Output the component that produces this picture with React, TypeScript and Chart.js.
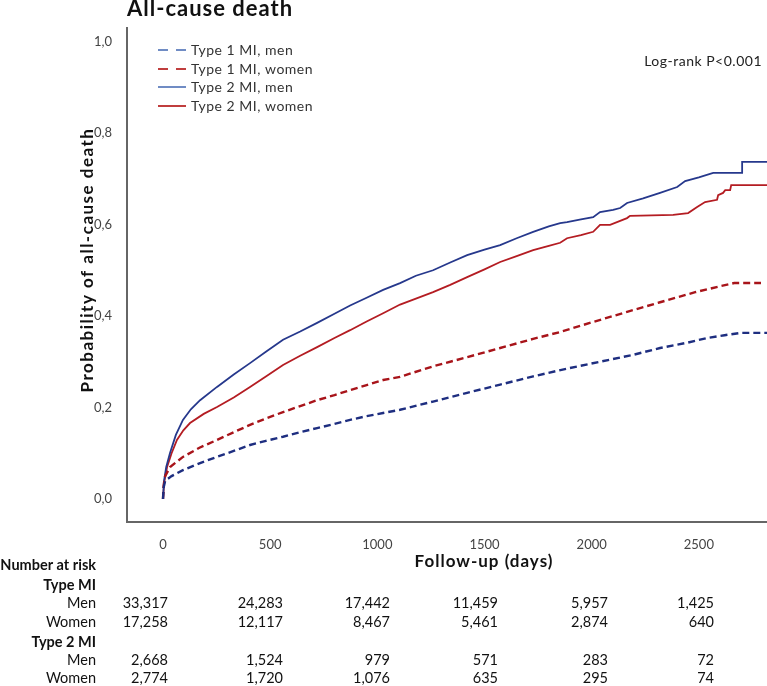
import React, { useEffect, useRef } from 'react';
import { Chart, registerables } from 'chart.js';

Chart.register(...registerables);

// ---- Data ----
const xTicks = [0, 500, 1000, 1500, 2000, 2500];
const yTicks = [0, 0.2, 0.4, 0.6, 0.8, 1.0];

const seriesNames = ['Type 1 MI, men', 'Type 1 MI, women', 'Type 2 MI, men', 'Type 2 MI, women'];

const t1MenDays = [0, 3, 10, 40, 93, 170, 252, 330, 406, 480, 560, 640, 719, 800, 873, 950, 1027, 1106, 1260, 1419, 1573, 1727, 1885, 2039, 2193, 2319, 2450, 2539, 2620, 2693, 2818];
const t1MenProb = [0, 0.025, 0.04, 0.05, 0.063, 0.078, 0.092, 0.105, 0.118, 0.127, 0.136, 0.146, 0.155, 0.164, 0.173, 0.181, 0.188, 0.195, 0.213, 0.232, 0.25, 0.268, 0.285, 0.3, 0.315, 0.33, 0.342, 0.352, 0.358, 0.363, 0.363];

const t1WomenDays = [0, 3, 10, 33, 93, 170, 252, 330, 406, 480, 560, 640, 719, 800, 873, 950, 1027, 1106, 1260, 1419, 1573, 1727, 1853, 2007, 2165, 2319, 2483, 2590, 2665, 2790];
const t1WomenProb = [0, 0.03, 0.05, 0.07, 0.092, 0.112, 0.129, 0.146, 0.162, 0.176, 0.19, 0.203, 0.216, 0.227, 0.238, 0.249, 0.26, 0.267, 0.29, 0.31, 0.33, 0.35, 0.365, 0.387, 0.409, 0.43, 0.452, 0.464, 0.472, 0.472];

const t2MenDays = [0, 5, 15, 33, 60, 93, 130, 173, 252, 330, 406, 480, 560, 640, 719, 800, 873, 950, 1027, 1106, 1180, 1260, 1340, 1419, 1500, 1573, 1650, 1727, 1800, 1853, 1885, 1950, 2007, 2039, 2100, 2133, 2165, 2240, 2319, 2399, 2436, 2500, 2567, 2702, 2702, 2818];
const t2MenProb = [0, 0.04, 0.07, 0.101, 0.14, 0.173, 0.196, 0.216, 0.245, 0.272, 0.297, 0.322, 0.348, 0.366, 0.385, 0.405, 0.423, 0.44, 0.457, 0.472, 0.488, 0.5, 0.517, 0.533, 0.545, 0.555, 0.57, 0.584, 0.596, 0.603, 0.605, 0.611, 0.616, 0.627, 0.632, 0.636, 0.647, 0.657, 0.669, 0.682, 0.695, 0.703, 0.713, 0.713, 0.737, 0.737];

const t2WomenDays = [0, 5, 19, 40, 65, 95, 126, 190, 252, 330, 406, 480, 560, 640, 719, 800, 873, 950, 1027, 1106, 1180, 1260, 1340, 1419, 1500, 1573, 1650, 1727, 1800, 1853, 1885, 1950, 2007, 2039, 2086, 2165, 2179, 2380, 2450, 2492, 2529, 2585, 2590, 2613, 2623, 2646, 2651, 2818];
const t2WomenProb = [0, 0.035, 0.07, 0.1, 0.129, 0.15, 0.166, 0.186, 0.201, 0.222, 0.245, 0.268, 0.293, 0.313, 0.332, 0.352, 0.369, 0.388, 0.406, 0.425, 0.438, 0.452, 0.468, 0.485, 0.502, 0.518, 0.531, 0.544, 0.553, 0.56, 0.57, 0.577, 0.584, 0.599, 0.599, 0.614, 0.619, 0.621, 0.625, 0.638, 0.649, 0.654, 0.664, 0.669, 0.675, 0.675, 0.686, 0.686];

const riskRowLabels = ['Men', 'Women', 'Men', 'Women'];
const riskT1Men = ['33,317', '24,283', '17,442', '11,459', '5,957', '1,425'];
const riskT1Women = ['17,258', '12,117', '8,467', '5,461', '2,874', '640'];
const riskT2Men = ['2,668', '1,524', '979', '571', '283', '72'];
const riskT2Women = ['2,774', '1,720', '1,076', '635', '295', '74'];

const pts = (d: number[], p: number[]) => d.map((v, i) => ({ x: v, y: p[i] }));

const BLUE = 'rgb(38,56,140)';
const BLUE_D = 'rgb(30,46,128)';
const RED = 'rgb(180,28,34)';
const RED_D = 'rgb(168,20,26)';
const LEG_BLUE = 'rgb(112,140,196)';
const LEG_RED = 'rgb(192,62,62)';

const FONT = 'Lato, "Open Sans", sans-serif';

const overlay = {
  id: 'overlay',
  afterDraw(chart: any) {
    const ctx = chart.ctx as any;
    ctx.save();
    // title
    ctx.fillStyle = '#111';
    ctx.font = `bold 22px ${FONT}`;
    ctx.letterSpacing = '1px';
    ctx.textAlign = 'left';
    ctx.textBaseline = 'alphabetic';
    ctx.fillText('All-cause death', 127, 16);

    // legend
    const legY = [50, 69, 87, 106];
    const legCol = [LEG_BLUE, LEG_RED, LEG_BLUE, LEG_RED];
    const legDash = [true, true, false, false];
    seriesNames.forEach((name, i) => {
      ctx.beginPath();
      ctx.strokeStyle = legCol[i];
      ctx.lineWidth = 2;
      ctx.setLineDash(legDash[i] ? [10, 8] : []);
      ctx.moveTo(158, legY[i]);
      ctx.lineTo(186, legY[i]);
      ctx.stroke();
      ctx.setLineDash([]);
      ctx.fillStyle = '#333';
      ctx.font = `14px ${FONT}`;
      ctx.letterSpacing = '0.5px';
      ctx.textAlign = 'left';
      ctx.textBaseline = 'middle';
      ctx.fillText(name, 191, legY[i]);
    });

    // log-rank
    ctx.fillStyle = '#222';
    ctx.font = `14px ${FONT}`;
    ctx.letterSpacing = '0.5px';
    ctx.textAlign = 'right';
    ctx.textBaseline = 'middle';
    ctx.fillText('Log-rank P<0.001', 762, 61);

    // y axis title
    ctx.save();
    ctx.translate(88, 260);
    ctx.rotate(-Math.PI / 2);
    ctx.font = `bold 17px ${FONT}`;
    ctx.letterSpacing = '1.5px';
    ctx.fillStyle = '#111';
    ctx.textAlign = 'center';
    ctx.textBaseline = 'middle';
    ctx.fillText('Probability of all-cause death', 0, 0);
    ctx.restore();

    // x axis title
    ctx.font = `bold 17px ${FONT}`;
    ctx.letterSpacing = '1px';
    ctx.fillStyle = '#111';
    ctx.textAlign = 'center';
    ctx.textBaseline = 'middle';
    ctx.fillText('Follow-up (days)', 484, 562);

    // risk table
    ctx.letterSpacing = '0px';
    ctx.textBaseline = 'middle';
    ctx.textAlign = 'right';
    ctx.fillStyle = '#111';
    ctx.font = `bold 14.5px ${FONT}`;
    ctx.fillText('Number at risk', 96, 565);
    ctx.fillText('Type MI', 96, 585);
    ctx.fillText('Type 2 MI', 96, 642);
    const rowsY = [603, 622, 660, 678];
    const rows = [riskT1Men, riskT1Women, riskT2Men, riskT2Women];
    const colRight = [168, 283, 390, 498, 608, 714];
    ctx.font = `14.5px ${FONT}`;
    rows.forEach((r, i) => {
      ctx.fillText(riskRowLabels[i], 96, rowsY[i]);
      r.forEach((v, j) => ctx.fillText(v, colRight[j], rowsY[i]));
    });
    ctx.restore();
  },
};

export default function App() {
  const ref = useRef<HTMLCanvasElement | null>(null);
  useEffect(() => {
    if (!ref.current) return;
    const chart = new Chart(ref.current, {
      type: 'line',
      data: {
        datasets: [
          { label: seriesNames[0], data: pts(t1MenDays, t1MenProb), borderColor: BLUE_D, borderWidth: 2.4, borderDash: [7, 4], pointRadius: 0, tension: 0, fill: false },
          { label: seriesNames[1], data: pts(t1WomenDays, t1WomenProb), borderColor: RED_D, borderWidth: 2.4, borderDash: [7, 4], pointRadius: 0, tension: 0, fill: false },
          { label: seriesNames[2], data: pts(t2MenDays, t2MenProb), borderColor: BLUE, borderWidth: 1.8, pointRadius: 0, tension: 0, fill: false },
          { label: seriesNames[3], data: pts(t2WomenDays, t2WomenProb), borderColor: RED, borderWidth: 1.8, pointRadius: 0, tension: 0, fill: false },
        ],
      },
      options: {
        animation: false,
        responsive: false,
        devicePixelRatio: 1,
        layout: { padding: { top: 28, bottom: 124, left: 0, right: 0 } },
        plugins: { legend: { display: false }, title: { display: false }, tooltip: { enabled: false } },
        scales: {
          x: {
            type: 'linear',
            min: -168,
            max: 2818,
            grid: { display: false },
            border: { display: true, color: '#666', width: 2 },
            ticks: {
              color: '#444',
              font: { family: FONT, size: 13 },
              padding: 7,
              maxRotation: 0,
              autoSkip: false,
              callback: (v: any) => String(v),
            },
            afterBuildTicks: (s: any) => { s.ticks = xTicks.map((v) => ({ value: v })); },
            afterFit: (s: any) => { s.height = 40; },
          },
          y: {
            type: 'linear',
            min: -0.0503,
            max: 1.0295,
            grid: { display: false },
            border: { display: true, color: '#666', width: 2 },
            ticks: {
              color: '#444',
              font: { family: FONT, size: 13 },
              padding: 7,
              callback: (v: any) => Number(v).toFixed(1).replace('.', ','),
            },
            afterBuildTicks: (s: any) => { s.ticks = yTicks.map((v) => ({ value: v })); },
            afterFit: (s: any) => { s.width = 127; },
          },
        },
      },
      plugins: [overlay],
    });
    return () => chart.destroy();
  }, []);
  return (
    <div style={{ position: 'fixed', left: 0, top: 0, width: 767, height: 686, background: '#fff' }}>
      <canvas ref={ref} width={767} height={686} style={{ width: 767, height: 686, display: 'block' }} />
    </div>
  );
}
